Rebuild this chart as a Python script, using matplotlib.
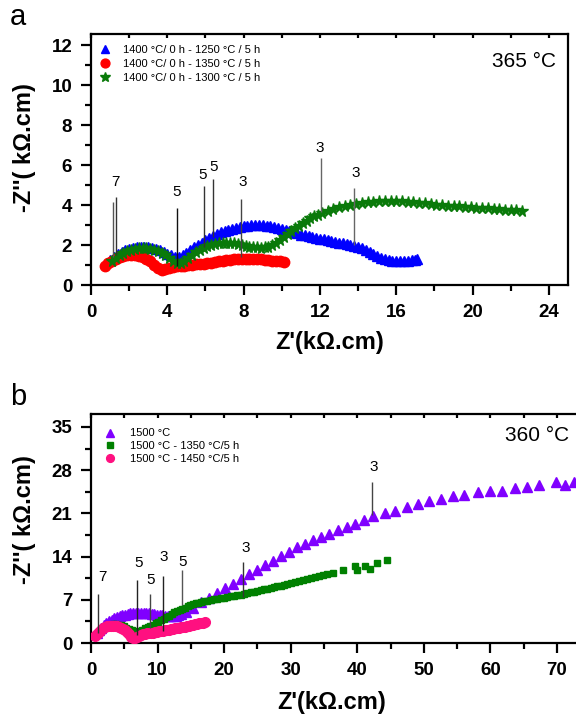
import matplotlib
matplotlib.use("Agg")
import matplotlib.pyplot as plt
from matplotlib.ticker import MultipleLocator

plt.rcParams['font.family'] = ['Liberation Sans', 'DejaVu Sans']

# ---------------- Panel a data (365 °C) ----------------
a_labels = ["1400 °C/ 0 h - 1250 °C / 5 h",
            "1400 °C/ 0 h - 1350 °C / 5 h",
            "1400 °C/ 0 h - 1300 °C / 5 h"]

a_blue_x = [1.0, 1.2, 1.4, 1.6, 1.8, 2.0, 2.2, 2.4, 2.6, 2.8, 3.0, 3.2, 3.4, 3.6, 3.8, 4.0,
            4.2, 4.4, 4.6, 4.8, 5.0, 5.2, 5.4, 5.6, 5.8, 6.0, 6.2, 6.4, 6.6, 6.8, 7.0, 7.2,
            7.4, 7.6, 7.8, 8.0, 8.2, 8.4, 8.6, 8.8, 9.0, 9.2, 9.4, 9.6, 9.8, 10.0, 10.2,
            10.4, 10.6, 10.8, 11.0, 11.2, 11.4, 11.6, 11.8, 12.0, 12.2, 12.4, 12.6, 12.8,
            13.0, 13.2, 13.4, 13.6, 13.8, 14.0, 14.2, 14.4, 14.6, 14.8, 15.0, 15.2, 15.4,
            15.6, 15.8, 16.0, 16.2, 16.4, 16.6, 16.8, 17.0, 17.1]
a_blue_y = [1.25, 1.42, 1.55, 1.65, 1.74, 1.8, 1.85, 1.88, 1.9, 1.9, 1.88, 1.85, 1.8, 1.73,
            1.65, 1.56, 1.48, 1.42, 1.42, 1.5, 1.62, 1.75, 1.88, 2.0, 2.12, 2.24, 2.35, 2.45,
            2.55, 2.63, 2.7, 2.76, 2.82, 2.87, 2.91, 2.94, 2.97, 2.99, 3.0, 3.0, 2.99, 2.97,
            2.94, 2.9, 2.85, 2.8, 2.75, 2.7, 2.65, 2.58, 2.52, 2.48, 2.44, 2.4, 2.36, 2.32,
            2.28, 2.24, 2.2, 2.16, 2.12, 2.08, 2.04, 2.0, 1.95, 1.9, 1.83, 1.74, 1.64, 1.55,
            1.45, 1.37, 1.3, 1.25, 1.22, 1.2, 1.2, 1.21, 1.22, 1.24, 1.27, 1.3]

a_red_x = [0.75, 0.9, 1.1, 1.3, 1.5, 1.7, 1.9, 2.1, 2.3, 2.5, 2.7, 2.9, 3.1, 3.3, 3.5, 3.7,
           3.9, 4.1, 4.3, 4.5, 4.7, 4.9, 5.1, 5.3, 5.5, 5.7, 5.9, 6.1, 6.3, 6.5, 6.7, 6.9,
           7.1, 7.3, 7.5, 7.7, 7.9, 8.1, 8.3, 8.5, 8.7, 8.9, 9.1, 9.3, 9.5, 9.7, 9.9, 10.1]
a_red_y = [0.97, 1.08, 1.2, 1.3, 1.38, 1.44, 1.48, 1.5, 1.5, 1.47, 1.41, 1.32, 1.2, 1.02,
           0.85, 0.76, 0.78, 0.85, 0.9, 0.93, 0.95, 0.97, 0.99, 1.01, 1.03, 1.05, 1.07,
           1.09, 1.12, 1.15, 1.18, 1.21, 1.24, 1.26, 1.28, 1.3, 1.31, 1.32, 1.32, 1.31,
           1.3, 1.28, 1.26, 1.24, 1.22, 1.2, 1.18, 1.16]

a_green_x = [1.1, 1.3, 1.5, 1.7, 1.9, 2.1, 2.3, 2.5, 2.7, 2.9, 3.1, 3.3, 3.5, 3.7, 3.9, 4.1,
             4.3, 4.5, 4.7, 4.9, 5.1, 5.3, 5.5, 5.7, 5.9, 6.1, 6.3, 6.5, 6.7, 6.9, 7.1, 7.3,
             7.5, 7.7, 7.9, 8.1, 8.3, 8.5, 8.7, 8.9, 9.1, 9.3, 9.5, 9.7, 9.9, 10.1, 10.3,
             10.5, 10.7, 10.9, 11.1, 11.3, 11.5, 11.7, 11.9, 12.1, 12.4, 12.7, 13.0, 13.3,
             13.6, 13.9, 14.2, 14.5, 14.8, 15.1, 15.4, 15.7, 16.0, 16.3, 16.6, 16.9, 17.2,
             17.5, 17.8, 18.1, 18.4, 18.7, 19.0, 19.3, 19.6, 19.9, 20.2, 20.5, 20.8, 21.1,
             21.4, 21.7, 22.0, 22.3, 22.6]
a_green_y = [1.2, 1.35, 1.48, 1.6, 1.7, 1.77, 1.82, 1.85, 1.86, 1.85, 1.82, 1.77, 1.7, 1.6,
             1.48, 1.35, 1.22, 1.12, 1.1, 1.2, 1.35, 1.5, 1.63, 1.75, 1.85, 1.93, 2.0, 2.05,
             2.09, 2.11, 2.12, 2.11, 2.09, 2.05, 2.0, 1.96, 1.92, 1.9, 1.88, 1.87, 1.88,
             1.92, 2.0, 2.12, 2.26, 2.4, 2.55, 2.7, 2.84, 2.97, 3.1, 3.22, 3.33, 3.43, 3.52,
             3.6, 3.7, 3.8, 3.88, 3.95, 4.01, 4.06, 4.1, 4.14, 4.17, 4.19, 4.2, 4.2, 4.2,
             4.19, 4.17, 4.14, 4.11, 4.08, 4.05, 4.02, 4.0, 3.97, 3.95, 3.93, 3.91, 3.89,
             3.87, 3.85, 3.83, 3.81, 3.79, 3.77, 3.75, 3.73, 3.71]

# frequency-decade annotations, panel a
a_ann_x = [1.17, 1.3, 4.52, 5.92, 6.42, 7.85, 12.08, 13.8]
a_ann_top = [4.15, 4.4, 3.85, 4.95, 5.3, 4.3, 6.35, 4.85]
a_ann_bot = [1.4, 1.5, 0.95, 1.9, 2.4, 1.4, 3.65, 2.0]
a_ann_col = ['#555555', '#333333', '#111111', '#333333', '#333333', '#444444', '#666666', '#666666']
a_lbl_text = ["7", "5", "5", "5", "3", "3", "3"]
a_lbl_x = [1.26, 4.49, 5.85, 6.44, 7.97, 11.99, 13.87]
a_lbl_y = [4.95, 4.45, 5.3, 5.7, 4.95, 6.65, 5.4]

# ---------------- Panel b data (360 °C) ----------------
b_labels = ["1500 °C", "1500 °C - 1350 °C/5 h", "1500 °C - 1450 °C/5 h"]

b_purple_x = [0.9, 1.2, 1.5, 1.9, 2.3, 2.7, 3.1, 3.5, 3.9, 4.3, 4.7, 5.1, 5.5, 5.9, 6.3, 6.7,
              7.1, 7.5, 7.9, 8.3, 8.7, 9.1, 9.5, 9.9, 10.3, 10.7, 11.1, 11.5, 11.9, 12.3,
              12.7, 13.1, 13.5, 14.2, 15.3, 16.5, 17.7, 18.9, 20.1, 21.3, 22.5, 23.7, 24.9,
              26.2, 27.4, 28.6, 29.8, 31.0, 32.2, 33.4, 34.6, 35.8, 37.1, 38.4, 39.7, 41.0,
              42.4, 44.1, 45.7, 47.4, 49.1, 50.8, 52.6, 54.4, 56.1, 58.1, 59.9, 61.7, 63.7,
              65.5, 67.3, 69.9, 71.2, 72.5]
b_purple_y = [1.6, 2.1, 2.5, 2.9, 3.25, 3.55, 3.8, 4.0, 4.2, 4.35, 4.5, 4.6, 4.7, 4.78, 4.83,
              4.87, 4.9, 4.9, 4.88, 4.85, 4.8, 4.75, 4.68, 4.6, 4.53, 4.46, 4.4, 4.36, 4.35,
              4.38, 4.45, 4.55, 4.7, 5.1, 5.75, 6.6, 7.35, 8.1, 8.85, 9.6, 10.35, 11.1, 11.85,
              12.6, 13.35, 14.1, 14.8, 15.5, 16.1, 16.7, 17.2, 17.7, 18.3, 18.8, 19.3, 19.9,
              20.6, 21.1, 21.4, 22.1, 22.5, 23.0, 23.3, 23.8, 24.0, 24.4, 24.6, 24.7, 25.1,
              25.3, 25.6, 26.1, 25.6, 26.1]

b_green_x = [0.9, 1.3, 1.7, 2.1, 2.5, 2.9, 3.3, 3.7, 4.1, 4.5, 4.9, 5.3, 5.7, 6.1, 6.5, 6.9,
             7.3, 7.7, 8.1, 8.5, 8.9, 9.3, 9.7, 10.1, 10.5, 10.9, 11.3, 11.7, 12.1, 12.5,
             12.9, 13.3, 13.7, 14.1, 14.5, 14.9, 15.3, 15.7, 16.1, 16.5, 17.0, 17.5, 18.0,
             18.5, 19.0, 19.5, 20.0, 20.5, 21.0, 21.5, 22.0, 22.5, 23.0, 23.5, 24.0, 24.5,
             25.0, 25.5, 26.0, 26.5, 27.0, 27.5, 28.0, 28.5, 29.0, 29.5, 30.0, 30.6, 31.2,
             31.8, 32.4, 33.0, 33.6, 34.2, 34.8, 35.4, 36.4, 37.8, 39.7, 40.0, 41.1, 41.9,
             43.0, 44.5]
b_green_y = [1.4, 1.9, 2.3, 2.6, 2.8, 2.95, 3.0, 3.0, 2.95, 2.85, 2.7, 2.5, 2.3, 2.1, 1.95,
             1.85, 1.95, 2.15, 2.35, 2.55, 2.75, 2.95, 3.2, 3.45, 3.7, 3.95, 4.2, 4.45, 4.7,
             4.95, 5.15, 5.35, 5.55, 5.75, 5.95, 6.1, 6.25, 6.4, 6.5, 6.6, 6.75, 6.85, 6.95,
             7.05, 7.15, 7.25, 7.35, 7.45, 7.55, 7.65, 7.75, 7.85, 7.95, 8.05, 8.2, 8.3, 8.45,
             8.55, 8.7, 8.8, 8.95, 9.05, 9.2, 9.3, 9.45, 9.6, 9.75, 9.9, 10.05, 10.2, 10.35,
             10.5, 10.65, 10.8, 10.95, 11.1, 11.3, 11.9, 12.5, 11.8, 12.5, 12.0, 12.9, 13.5]

b_pink_x = [0.6, 0.9, 1.2, 1.5, 1.8, 2.1, 2.4, 2.7, 3.0, 3.3, 3.6, 3.9, 4.2, 4.5, 4.8, 5.1,
            5.4, 5.7, 6.0, 6.3, 6.6, 6.9, 7.2, 7.5, 7.8, 8.1, 8.4, 8.7, 9.0, 9.3, 9.6, 9.9,
            10.2, 10.5, 10.8, 11.1, 11.4, 11.7, 12.0, 12.3, 12.6, 12.9, 13.2, 13.5, 13.8,
            14.1, 14.4, 14.7, 15.0, 15.3, 15.6, 15.9, 16.2, 16.5, 16.8, 17.1]
b_pink_y = [1.1, 1.5, 1.85, 2.15, 2.4, 2.55, 2.68, 2.75, 2.8, 2.8, 2.78, 2.72, 2.62, 2.48,
            2.3, 2.05, 1.75, 1.4, 1.05, 0.85, 0.8, 0.95, 1.15, 1.3, 1.4, 1.48, 1.55, 1.6,
            1.65, 1.7, 1.76, 1.82, 1.88, 1.94, 2.0, 2.06, 2.12, 2.18, 2.24, 2.3, 2.36, 2.42,
            2.48, 2.54, 2.6, 2.67, 2.74, 2.81, 2.88, 2.95, 3.02, 3.09, 3.16, 3.22, 3.28, 3.33]

b_ann_x = [1.1, 6.97, 8.9, 10.8, 13.7, 22.9, 42.2]
b_ann_top = [7.9, 10.2, 7.9, 10.9, 11.8, 13.1, 26.1]
b_ann_bot = [1.6, 1.3, 2.4, 1.9, 6.2, 7.5, 20.7]
b_ann_col = ['#333333', '#222222', '#444444', '#222222', '#555555', '#333333', '#444444']
b_lbl_text = ["7", "5", "5", "3", "5", "3", "3"]
b_lbl_x = [1.68, 7.18, 8.94, 10.94, 13.7, 23.2, 42.4]
b_lbl_y = [10.05, 12.3, 9.55, 13.3, 12.5, 14.75, 27.9]

# ---------------- Figure ----------------
W, H = 576, 716
fig = plt.figure(figsize=(W / 100, H / 100), dpi=100)


def px_axes(left, top, right, bottom):
    return fig.add_axes([left / W, 1 - bottom / H, (right - left) / W, (bottom - top) / H])


def style_axes(ax, xmaj, xmin, ymaj, ymin):
    for s in ax.spines.values():
        s.set_linewidth(1.6)
    ax.xaxis.set_major_locator(MultipleLocator(xmaj))
    ax.xaxis.set_minor_locator(MultipleLocator(xmin))
    ax.yaxis.set_major_locator(MultipleLocator(ymaj))
    ax.yaxis.set_minor_locator(MultipleLocator(ymin))
    ax.tick_params(which='major', direction='out', length=7.5, width=1.6,
                   labelsize=13.5, pad=6)
    ax.tick_params(which='minor', direction='out', length=4, width=1.6)
    ax.tick_params(axis='x', which='both', top=True, labeltop=False)
    ax.tick_params(axis='y', which='both', right=False)
    for t in ax.get_xticklabels() + ax.get_yticklabels():
        t.set_fontweight('bold')
    # top ticks: short and pointing inward
    for tk in ax.xaxis.get_major_ticks() + ax.xaxis.get_minor_ticks():
        tk.tick2line.set_marker(3)
        tk.tick2line.set_markersize(3)


# ---- Panel a ----
ax1 = px_axes(91, 34, 568, 285)
ax1.plot(a_blue_x, a_blue_y, linestyle='none', marker='^', ms=6.5, color='#0000FF',
         mec='#0000FF', label=a_labels[0], zorder=3)
ax1.plot(a_red_x, a_red_y, linestyle='none', marker='o', ms=7.5, color='#FF0000',
         mec='#FF0000', label=a_labels[1], zorder=3)
ax1.plot(a_green_x, a_green_y, linestyle='none', marker='*', ms=8.5, color='#0A7A0A',
         mec='#0A7A0A', label=a_labels[2], zorder=4)
ax1.vlines(a_ann_x, a_ann_bot, a_ann_top, colors=a_ann_col, linewidth=1.0, zorder=6)
for t, x, y in zip(a_lbl_text, a_lbl_x, a_lbl_y):
    ax1.text(x, y, t, ha='center', va='baseline', fontsize=11, zorder=7)
ax1.set_xlim(0, 25)
ax1.set_ylim(0, 12.55)
style_axes(ax1, 4, 2, 2, 1)
ax1.set_xlabel("Z'(k\u03a9.cm)", fontsize=17, fontweight='bold')
ax1.set_ylabel("-Z''( k\u03a9.cm)", fontsize=17, fontweight='bold')
ax1.xaxis.set_label_coords(0.5, -(343 - 285) / 251, transform=ax1.transAxes)
ax1.yaxis.set_label_coords(-(91 - 24) / 477, (285 - 148) / 251, transform=ax1.transAxes)
ax1.xaxis.label.set_va('center')
ax1.yaxis.label.set_va('center')
ax1.legend(loc='upper left', bbox_to_anchor=(0.018, 0.956), frameon=False,
           fontsize=8, handlelength=1.0, handletextpad=1.1, labelspacing=0.35,
           borderpad=0, borderaxespad=0, markerscale=0.85)
ax1.text(0.975, (285 - 67) / 251, "365 °C", transform=ax1.transAxes, ha='right',
         va='baseline', fontsize=15)

# ---- Panel b ----
ax2 = px_axes(91, 414, 91 + 76 * 6.657, 643)
ax2.plot(b_purple_x, b_purple_y, linestyle='none', marker='^', ms=6.5, color='#8000FF',
         mec='#8000FF', label=b_labels[0], zorder=3)
ax2.plot(b_green_x, b_green_y, linestyle='none', marker='s', ms=5, color='#008000',
         mec='#008000', label=b_labels[1], zorder=4)
ax2.plot(b_pink_x, b_pink_y, linestyle='none', marker='o', ms=7, color='#FF1080',
         mec='#FF1080', label=b_labels[2], zorder=5)
ax2.vlines(b_ann_x, b_ann_bot, b_ann_top, colors=b_ann_col, linewidth=1.0, zorder=6)
for t, x, y in zip(b_lbl_text, b_lbl_x, b_lbl_y):
    ax2.text(x, y, t, ha='center', va='baseline', fontsize=11, zorder=7)
ax2.set_xlim(0, 76)
ax2.set_ylim(0, 37.1)
style_axes(ax2, 10, 5, 7, 3.5)
ax2.set_xlabel("Z'(k\u03a9.cm)", fontsize=17, fontweight='bold')
ax2.set_ylabel("-Z''( k\u03a9.cm)", fontsize=17, fontweight='bold')
bw = 76 * 6.657
ax2.xaxis.set_label_coords((332 - 91) / bw, -(702 - 643) / 229, transform=ax2.transAxes)
ax2.yaxis.set_label_coords(-(91 - 24) / bw, (643 - 520) / 229, transform=ax2.transAxes)
ax2.xaxis.label.set_va('center')
ax2.yaxis.label.set_va('center')
ax2.legend(loc='upper left', bbox_to_anchor=(0.026, 0.937), frameon=False,
           fontsize=8, handlelength=1.0, handletextpad=1.3, labelspacing=0.25,
           borderpad=0, borderaxespad=0, markerscale=0.8)
fig.text(569 / W, 1 - 441 / H, "360 °C", ha='right', va='baseline', fontsize=15)

fig.text(10 / W, 1 - 25 / H, "a", fontsize=21, va='baseline')
fig.text(10 / W, 1 - 405 / H, "b", fontsize=21, va='baseline')

fig.savefig("out.png", dpi=100)
